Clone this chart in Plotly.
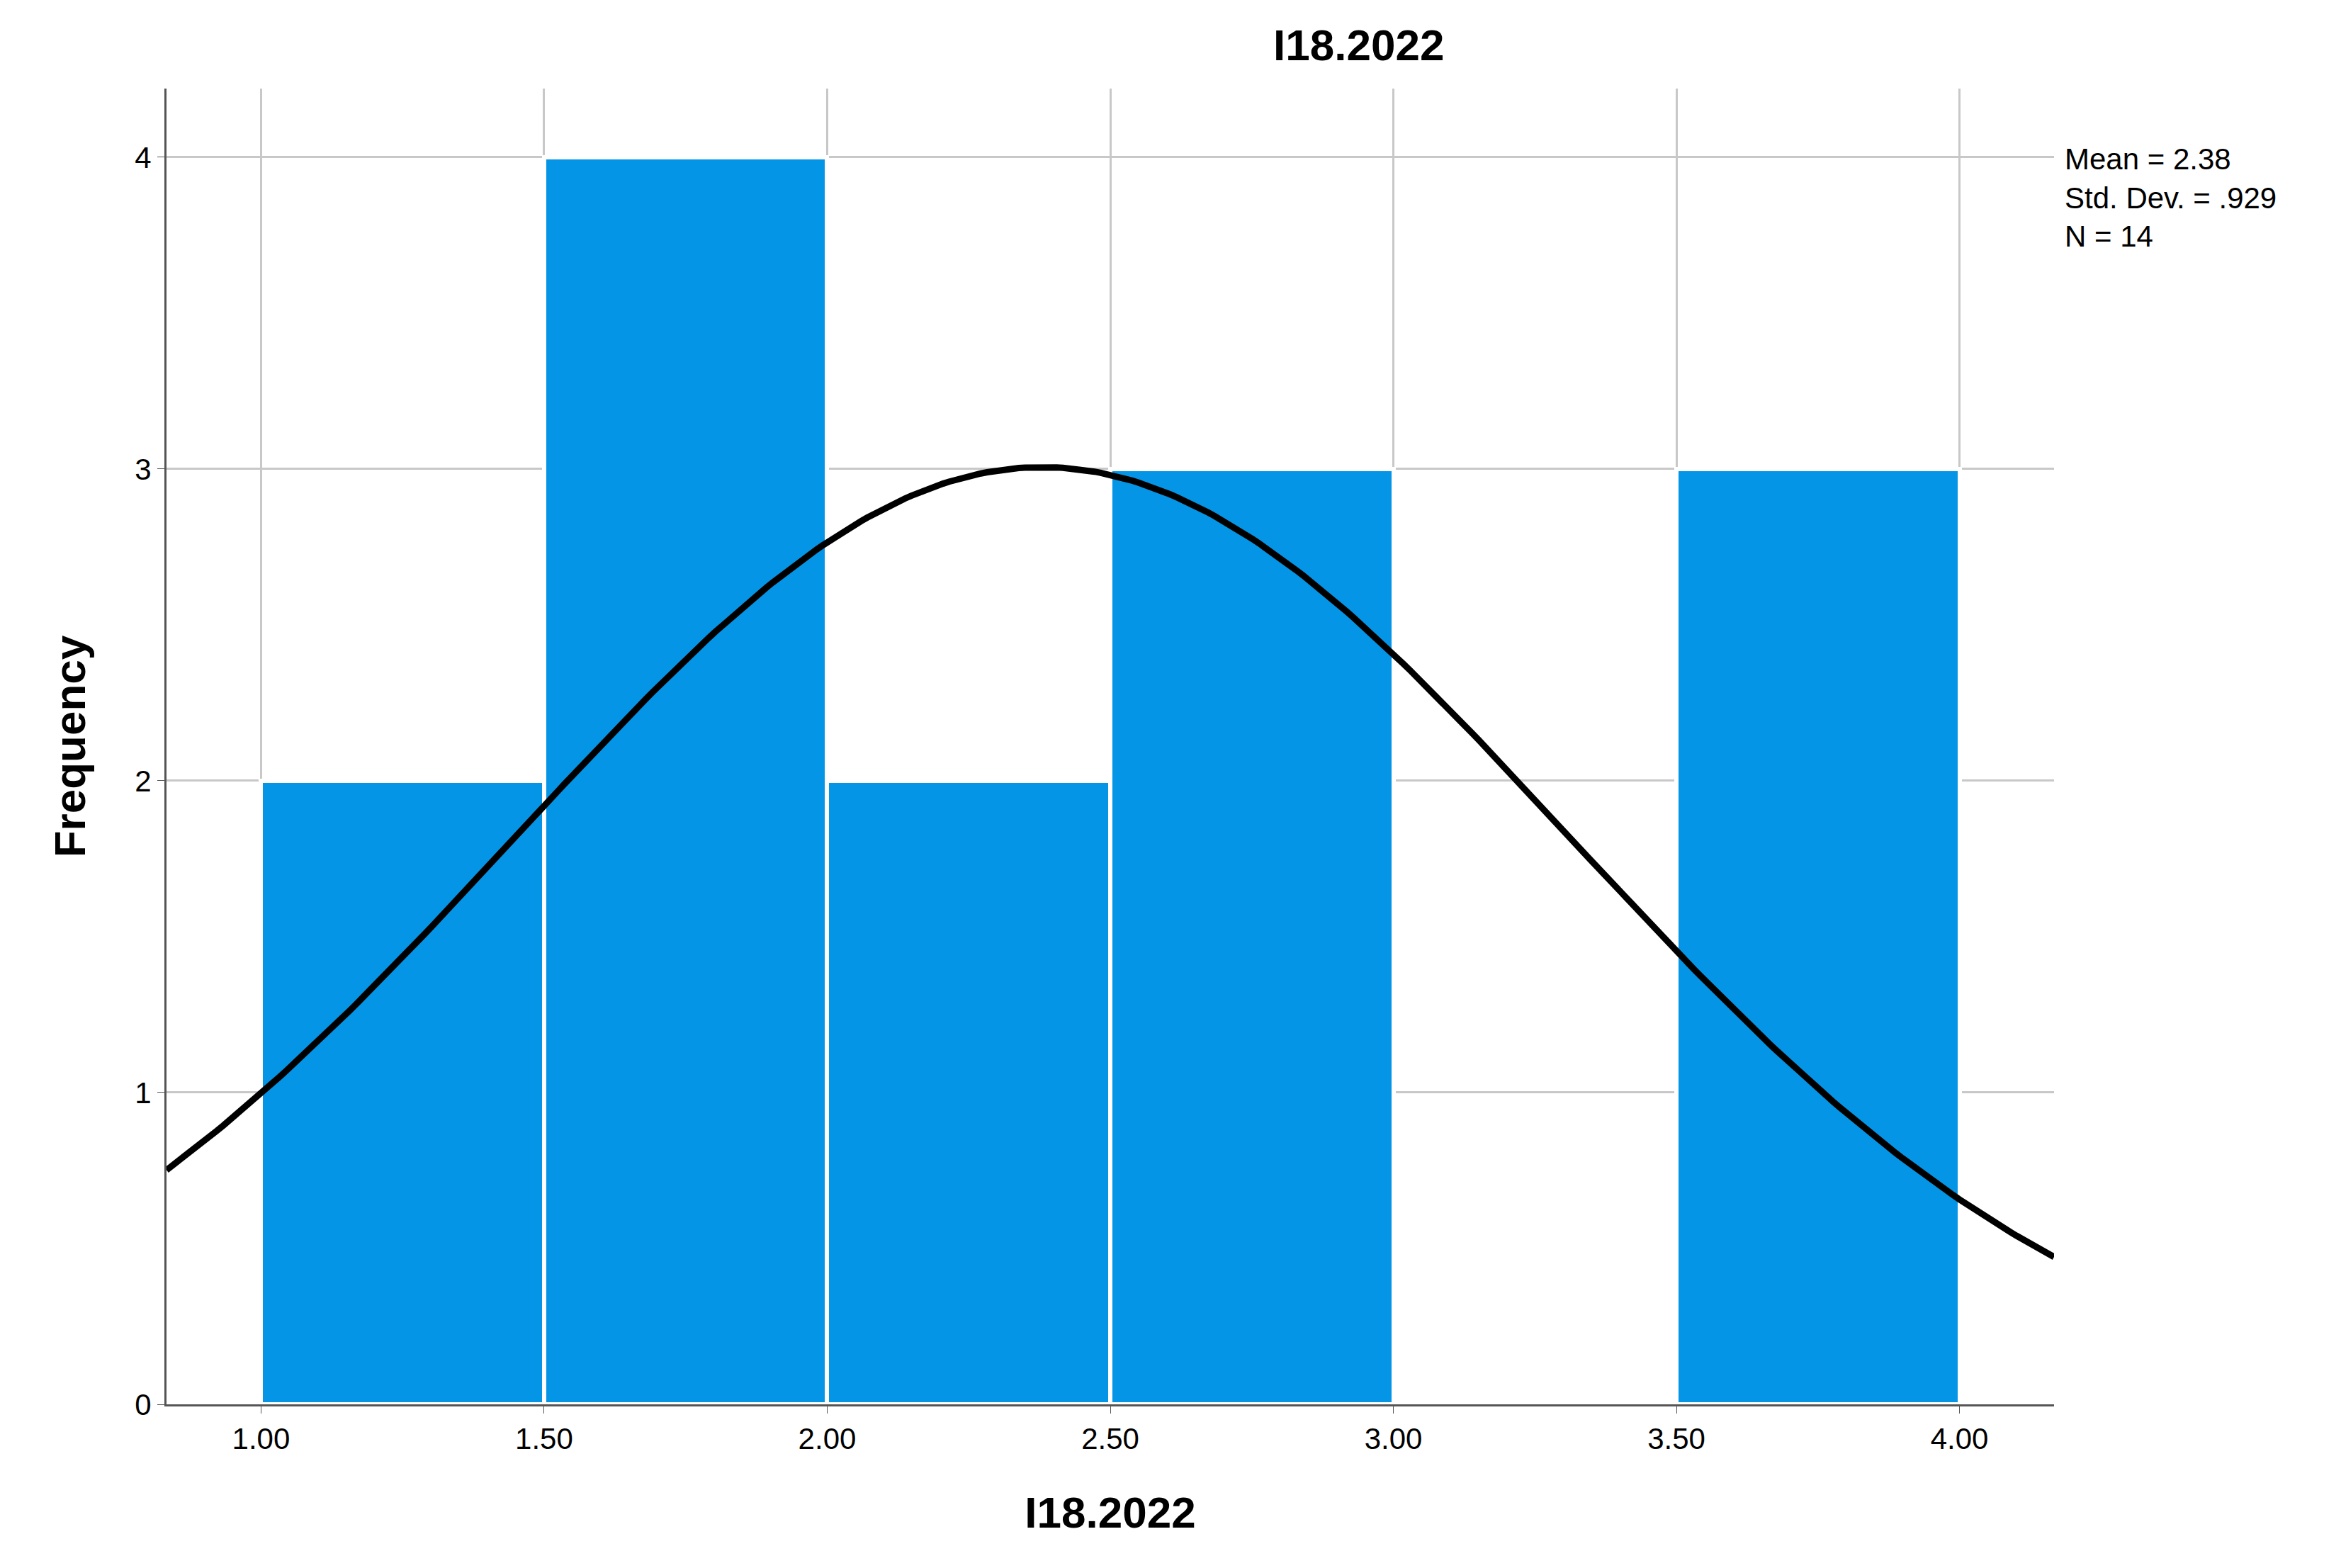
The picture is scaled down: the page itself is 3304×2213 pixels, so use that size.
import numpy as np
import plotly.graph_objects as go

# histogram bins (left edge) and counts
bin_left = [1.0, 1.5, 2.0, 2.5, 3.0, 3.5]
counts = [2, 4, 2, 3, 0, 3]
bin_width = 0.5
mean, sd, n = 2.38, 0.929, 14

x_ticks = [1.0, 1.5, 2.0, 2.5, 3.0, 3.5, 4.0]
x_tick_text = ["1.00", "1.50", "2.00", "2.50", "3.00", "3.50", "4.00"]

# normal curve scaled to counts
xc = np.linspace(0.833, 4.167, 300)
yc = n * bin_width / (sd * np.sqrt(2 * np.pi)) * np.exp(-0.5 * ((xc - mean) / sd) ** 2)

fig = go.Figure()
fig.add_trace(go.Bar(
    x=[b + bin_width / 2 for b in bin_left], y=counts, width=bin_width,
    marker=dict(color='#0595E6', line=dict(color='white', width=6)),
))
fig.add_trace(go.Scatter(x=xc, y=yc, mode='lines', line=dict(color='black', width=9)))

axis_font = dict(family='Liberation Sans, Arial', size=42, color='black')
fig.update_layout(
    width=3304, height=2213,
    margin=dict(l=227, r=413, t=117, b=239),
    paper_bgcolor='white', plot_bgcolor='white',
    showlegend=False,
    font=axis_font,
    title=dict(text='<b>I18.2022</b>', x=0.578, xanchor='center', y=0.985, yanchor='top',
               font=dict(size=62, family='Liberation Sans, Arial')),
    xaxis=dict(range=[0.833, 4.167], tickvals=x_ticks, ticktext=x_tick_text,
               showgrid=True, gridcolor='#C8C8C8', gridwidth=3,
               showline=True, linecolor='#555', linewidth=3,
               ticks='outside', ticklen=10, tickcolor='#555',
               title=dict(text='<b>I18.2022</b>', font=dict(size=62), standoff=60)),
    yaxis=dict(range=[0, 4.22], tickvals=[0, 1, 2, 3, 4],
               showgrid=True, gridcolor='#C8C8C8', gridwidth=3,
               showline=True, linecolor='#555', linewidth=3,
               ticks='outside', ticklen=10, tickcolor='#555',
               title=dict(text='<b>Frequency</b>', font=dict(size=62), standoff=50)),
    bargap=0,
)
fig.add_annotation(
    xref='paper', yref='paper', x=1.005, y=0.96, xanchor='left', yanchor='top',
    text='Mean = 2.38<br>Std. Dev. = .929<br>N = 14', showarrow=False, align='left',
    font=dict(size=42, family='Liberation Sans, Arial'),
)
fig.write_html("out.html")
